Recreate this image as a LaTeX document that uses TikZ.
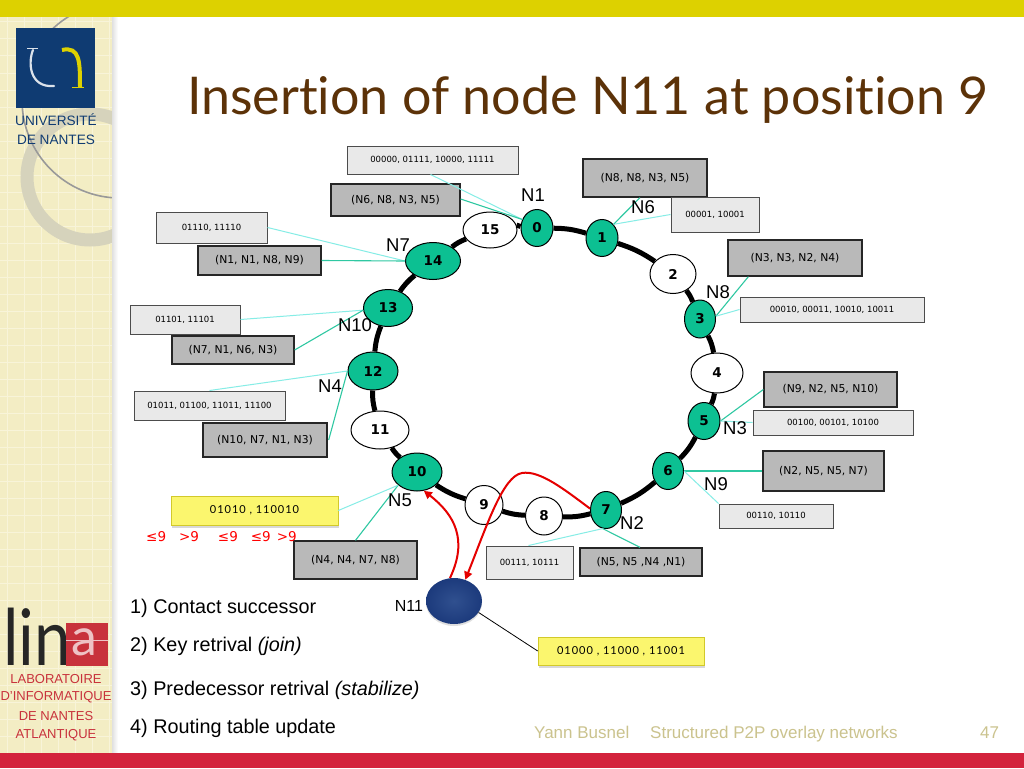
\documentclass[tikz,border=0pt]{standalone}
\usepackage{fontspec}
\setmainfont{Liberation Sans}
\newfontfamily\titlefont[Ligatures=NoCommon]{Lato}
\newfontfamily\labfont{DejaVu Sans}
\newfontfamily\numfont{DejaVu Sans}
\newfontfamily\gillfont[LetterSpace=9]{Lato}
\usetikzlibrary{shadows,arrows.meta,calc,shapes.geometric}
\definecolor{ringgreen}{HTML}{0CC092}
\definecolor{keygrey}{HTML}{E9E9E9}
\definecolor{tabgrey}{HTML}{B9B9B9}
\definecolor{keyline}{HTML}{86EDE6}
\definecolor{tabline}{HTML}{2FC8A2}
\definecolor{panel}{HTML}{F3EDC4}
\definecolor{panelline}{HTML}{F8F4D9}
\definecolor{topbar}{HTML}{DDD100}
\definecolor{botbar}{HTML}{D3233C}
\definecolor{deco}{HTML}{D6D3BC}
\definecolor{titlebrown}{HTML}{5C3208}
\definecolor{navy}{HTML}{0F3B72}
\definecolor{foot}{HTML}{CBC38E}
\definecolor{linared}{HTML}{C8323C}
\definecolor{postit}{HTML}{FBF66E}
\definecolor{peerin}{HTML}{30508F}
\definecolor{peerout}{HTML}{1C3A7C}
\newcommand{\fs}[1]{\fontsize{#1}{#1}\selectfont}
\newcommand{\rectnode}[7]{\node[#2,minimum width={(#5-#3)*1pt},minimum height={(#6-#4)*1pt}] (#1) at ({(#3+#5)/2},{(#4+#6)/2}) {#7};}
\newcommand{\ringnode}[6]{\node[#2,minimum width=#5pt,minimum height=#6pt] (#1) at (#3,#4) {\numfont\bfseries\fs{13.5}#1};}
\tikzset{
 x=1pt,y=-1pt,
 keybox/.style={draw=black!70,line width=1pt,fill=keygrey,inner sep=0pt,font=\labfont\fs{8.5}},
 tabbox/.style={draw=black!85,line width=1.3pt,fill=tabgrey,inner sep=0pt,font=\labfont\fs{10.8}},
 yelbox/.style={draw=yellow!80!black,line width=.6pt,fill=postit,inner sep=0pt,font=\gillfont\fs{11},drop shadow={shadow xshift=1pt,shadow yshift=-2.5pt,opacity=.3}},
 greennode/.style={ellipse,draw=black,line width=1pt,fill=ringgreen,inner sep=0pt},
 whitenode/.style={ellipse,draw=black,line width=1pt,fill=white,inner sep=0pt},
 ringlink/.style={line width=5pt,black},
 keylink/.style={keyline,line width=1pt},
 tablink/.style={tabline,line width=1.1pt},
 peer/.style={font=\fs{18.5},inner sep=0pt},
 steptext/.style={anchor=base west,inner sep=0pt,font=\fs{19.8}},
 redarrow/.style={red!90!black,line width=2pt,-{Triangle[length=8pt,width=8pt]}},
 foottext/.style={anchor=base west,inner sep=0pt,text=foot,font=\fs{17}},
 sidetext/.style={inner sep=0pt,font=\fs{13.6}},
 labtext/.style={inner sep=0pt,font=\fs{13},text=linared},
}
\begin{document}
\begin{tikzpicture}
\useasboundingbox (0,0) rectangle (1024,768);
\fill[white] (0,0) rectangle (1024,768);
% side panel
\begin{scope}
\clip (0,0) rectangle (113,768);
\fill[panel] (0,0) rectangle (113,768);
\foreach \i in {0,...,6}{\draw[panelline,line width=1pt] ({\i*17+7},0) -- ({\i*17+7},768);}
\foreach \i in {0,...,45}{\draw[panelline,line width=1pt] (0,{\i*17+5}) -- (113,{\i*17+5});}
\draw[deco,line width=13pt] (90,177) circle (63);
\draw[black!40,line width=1.6pt] (120,100) circle (98);
\end{scope}
\shade[left color=black!12,right color=white] (112,18) rectangle (118,753);
\fill[topbar] (0,0) rectangle (1024,17);
\fill[botbar] (0,753) rectangle (1024,768);
% Nantes logo
\fill[navy] (16,28) rectangle (95,108);
\draw[white!85!navy,line width=2.2pt,line cap=round] (33,50) .. controls (28,62) and (29,88) .. (54,86);
\draw[white!85!navy,line width=1pt] (27,49) -- (38,49);
\draw[topbar,line width=4pt] (62,50) .. controls (80,46) and (80,62) .. (80,87);
\draw[topbar,line width=1pt] (72,87) -- (84,87);
\node[sidetext,text=navy] (univ) at (56,120) {UNIVERSITÉ};
\node[sidetext,text=navy] (nantes) at (56,140) {DE NANTES};
% LINA logo
\node[inner sep=0pt,anchor=base west,text depth=0pt,text=black!85,font=\titlefont\fs{78},xscale=.84,transform shape] (lina) at (3,665) {lin};
\fill[linared] (66,623) rectangle (108,666);
\node[inner sep=0pt,text=white!70!linared,font=\titlefont\fs{52}] (linaa) at (84,642) {a};
\draw[white!70!linared,line width=.8pt] (66,640) -- (108,640);
\node[labtext] (lab1) at (56,679) {LABORATOIRE};
\node[labtext] (lab2) at (56,697) {D'INFORMATIQUE};
\node[labtext] (lab3) at (56,716) {DE NANTES};
\node[labtext] (lab4) at (56,735) {ATLANTIQUE};
% title
\node[anchor=west,inner sep=0pt,text=titlebrown,font=\titlefont\fs{52}] (title) at (187,100) {Insertion of node N11 at position 9};
% ring nodes
\ringnode{0}{greennode}{537}{228}{32}{37}
\ringnode{1}{greennode}{602}{238}{32}{37}
\ringnode{2}{whitenode}{673}{274}{46}{39}
\ringnode{3}{greennode}{700}{319}{31}{38}
\ringnode{4}{whitenode}{717}{373}{52}{40}
\ringnode{5}{greennode}{704}{421}{32}{37}
\ringnode{6}{greennode}{668}{471}{31}{37}
\ringnode{7}{greennode}{606}{510}{31}{37}
\ringnode{8}{whitenode}{544}{516}{37}{38}
\ringnode{9}{whitenode}{484}{505}{38}{39}
\ringnode{10}{greennode}{417}{472}{50}{38}
\ringnode{11}{whitenode}{380}{430}{58}{38}
\ringnode{12}{greennode}{373}{371}{50}{38}
\ringnode{13}{greennode}{388}{308}{49}{37}
\ringnode{14}{greennode}{433}{261}{55}{37}
\ringnode{15}{whitenode}{490}{230}{54}{36}
% ring links
\foreach \a/\b in {0/1,1/2,2/3,3/4,4/5,5/6,6/7,7/8,8/9,9/10,10/11,11/12,12/13,13/14,14/15,15/0}{
  \draw[ringlink] (\a) to[bend left=8] (\b);
}
% boxes
\rectnode{k0}{keybox}{347}{146}{518}{174}{00000, 01111, 10000, 11111}
\rectnode{t0}{tabbox}{331}{184}{460}{216}{(N6, N8, N3, N5)}
\rectnode{t1}{tabbox}{583}{159}{707}{197}{(N8, N8, N3, N5)}
\rectnode{k1}{keybox}{671}{197}{759}{232}{00001, 10001}
\rectnode{t3}{tabbox}{728}{240}{862}{276}{(N3, N3, N2, N4)}
\rectnode{k3}{keybox}{740}{297}{924}{322}{00010, 00011, 10010, 10011}
\rectnode{t5}{tabbox}{764}{372}{897}{407}{(N9, N2, N5, N10)}
\rectnode{k5}{keybox}{753}{410}{913}{435}{00100, 00101, 10100}
\rectnode{t6}{tabbox}{763}{451}{884}{491}{(N2, N5, N5, N7)}
\rectnode{k6}{keybox}{719}{504}{833}{528}{00110, 10110}
\rectnode{t7}{tabbox}{580}{548}{702}{576}{(N5, N5 ,N4 ,N1)}
\rectnode{k7}{keybox}{486}{546}{573}{579}{00111, 10111}
\rectnode{t10}{tabbox}{294}{541}{417}{579}{(N4, N4, N7, N8)}
\rectnode{k10}{yelbox}{171}{496}{338}{525}{01010 , 110010}
\rectnode{t12}{tabbox}{203}{423}{327}{457}{(N10, N7, N1, N3)}
\rectnode{k12}{keybox}{134}{391}{285}{420}{01011, 01100, 11011, 11100}
\rectnode{t13}{tabbox}{172}{336}{294}{364}{(N7, N1, N6, N3)}
\rectnode{k13}{keybox}{130}{305}{240}{334}{01101, 11101}
\rectnode{t14}{tabbox}{198}{246}{321}{275}{(N1, N1, N8, N9)}
\rectnode{k14}{keybox}{156}{212}{267}{243}{01110, 11110}
\rectnode{k11}{yelbox}{538}{637}{704}{665}{01000 , 11000 , 11001}
% N11
\node[ellipse,minimum width=56pt,minimum height=46pt,inner sep=0pt,inner color=peerin,outer color=peerout,
  drop shadow={shadow xshift=0pt,shadow yshift=-2pt,opacity=.25}] (n11) at (454,601) {};
% key / table links
\draw[keylink] ($(k0.south)+(-2,0)$) -- (0.150);
\draw[tablink] ($(t0.east)+(0,-1)$) -- (0.150);
\draw[keylink] (k1.west) -- (1.50);
\draw[tablink] ($(t1.south)+(-5,0)$) -- (1.50);
\draw[tablink] ($(t3.south west)+(21,0)$) -- (3.10);
\draw[keylink] (k3.west) -- (3.10);
\draw[tablink] (t5.west) -- (5.0);
\draw[keylink] (k5.west) -- (5.0);
\draw[tablink] (t6.west) -- (6.0);
\draw[keylink] (k6.north west) -- (6.0);
\draw[keylink] ($(k7.north)+(-1,0)$) -- (7.260);
\draw[tablink] ($(t7.north)+(-1,0)$) -- (7.260);
\draw[tablink] (t10.north) -- (10.215);
\draw[keylink] (k10.east) -- (10.215);
\draw[keylink] (k12.north) -- (12.180);
\draw[tablink] ($(t12.east)+(1,0)$) -- (12.180);
\draw[keylink] (k13.east) -- (13.185);
\draw[tablink] (t13.east) -- (13.185);
\draw[keylink] (k14.east) -- (14.180);
\draw[tablink] (t14.east) -- (14.180);
\draw[black,line width=.8pt] (n11.-25) -- (k11.west);
% red arrows
\draw[redarrow] (n11.100) .. controls (468,540) and (455,515) .. (10.-70);
\draw[redarrow] (7.175) .. controls (565,490) and (540,470) .. (522,473) .. controls (503,476) and (487,525) .. (n11.62);
% peer labels
\node[peer] (p1) at (533,195) {N1};
\node[peer] (p6) at (643,207) {N6};
\node[peer] (p8) at (718,292) {N8};
\node[peer] (p3) at (735,428) {N3};
\node[peer] (p9) at (716,484) {N9};
\node[peer] (p2) at (632,523) {N2};
\node[peer] (p5) at (400,500) {N5};
\node[peer] (p4) at (330,386) {N4};
\node[peer] (p10) at (355,325) {N10};
\node[peer] (p7) at (398,245) {N7};
\node[peer,font=\fs{16}] (p11) at (409,606) {N11};
% red glyphs
\node[inner sep=0pt,anchor=west,text=red,font=\labfont\fs{13.5}] (cond) at (146,537) {≤9\hspace{13pt}>9\hspace{19pt}≤9\hspace{13pt}≤9\hspace{6pt}>9};
% steps
\node[steptext] (s1) at (130,613) {1) Contact successor};
\node[steptext] (s2) at (130,651) {2) Key retrival \textit{(join)}};
\node[steptext] (s3) at (130,695) {3) Predecessor retrival \textit{(stabilize)}};
\node[steptext] (s4) at (130,733) {4) Routing table update};
% footer
\node[foottext] (f1) at (534,738) {Yann Busnel};
\node[foottext] (f2) at (650,738) {Structured P2P overlay networks};
\node[foottext] (f3) at (980,738) {47};
\end{tikzpicture}
\end{document}
